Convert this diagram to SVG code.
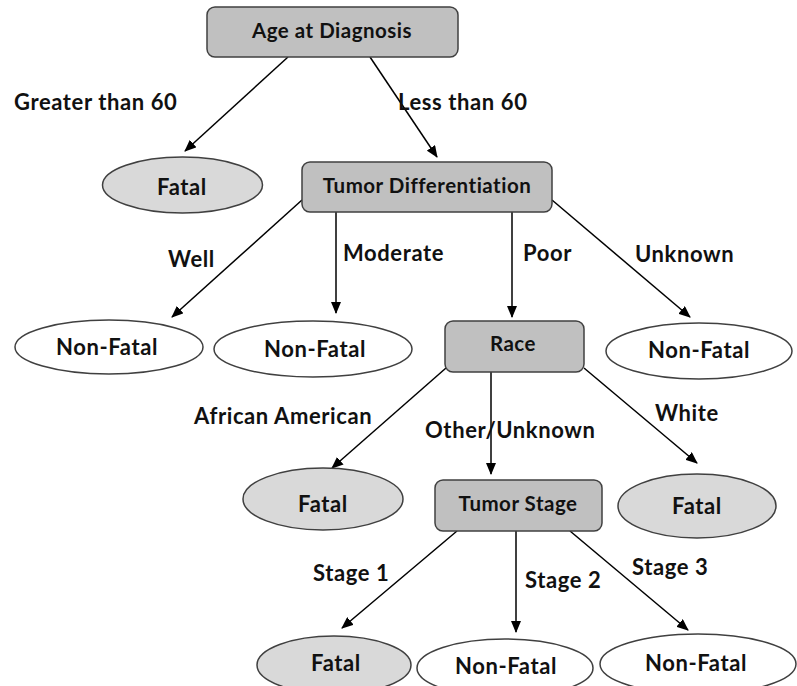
<svg xmlns="http://www.w3.org/2000/svg" width="797" height="686" viewBox="0 0 797 686">
<defs>
<marker id="ah" markerWidth="12" markerHeight="10" refX="11" refY="5" orient="auto" markerUnits="userSpaceOnUse">
<path d="M0,0 L12,5 L0,10 Z" fill="#000"/>
</marker>
<style>
.box{fill:#c0c0c0;stroke:#404040;stroke-width:1.5}
.ef{fill:#d9d9d9;stroke:#404040;stroke-width:1.5}
.en{fill:#fff;stroke:#404040;stroke-width:1.5}
text{font-family:Lato,"Open Sans","Liberation Sans",sans-serif;font-weight:bold;font-size:22px;letter-spacing:0.6px;fill:#111}
.b{font-size:20.5px;letter-spacing:0.5px}
.c{text-anchor:middle}
.e{stroke:#000;stroke-width:1.5;fill:none;marker-end:url(#ah)}
</style>
</defs>
<rect width="797" height="686" fill="#fff"/>
<g id="connectors">
<line class="e" x1="288" y1="57" x2="185" y2="151"/>
<line class="e" x1="370" y1="57" x2="437" y2="157"/>
<line class="e" x1="302" y1="200" x2="172" y2="317"/>
<line class="e" x1="336" y1="212" x2="336" y2="313"/>
<line class="e" x1="512" y1="212" x2="512" y2="317"/>
<line class="e" x1="552" y1="200" x2="690" y2="317"/>
<line class="e" x1="446" y1="368" x2="332" y2="468"/>
<line class="e" x1="491" y1="372" x2="491" y2="474"/>
<line class="e" x1="584" y1="368" x2="697" y2="463"/>
<line class="e" x1="457" y1="531" x2="342" y2="628"/>
<line class="e" x1="516" y1="531" x2="516" y2="632"/>
<line class="e" x1="570" y1="531" x2="688" y2="630"/>
<text x="14" y="110">Greater than 60</text>
<text x="398" y="110">Less than 60</text>
<text x="168" y="267">Well</text>
<text x="343" y="261">Moderate</text>
<text x="523" y="261">Poor</text>
<text x="635" y="262">Unknown</text>
<text x="194" y="424">African American</text>
<text x="425" y="438">Other/Unknown</text>
<text x="655" y="421">White</text>
<text x="313" y="581">Stage 1</text>
<text x="525" y="588">Stage 2</text>
<text x="632" y="575">Stage 3</text>
</g>
<g id="age">
<rect class="box" x="207" y="7" width="251" height="50" rx="8"/>
<text class="c b" x="332" y="38">Age at Diagnosis</text>
</g>
<g id="fatal1">
<ellipse class="ef" cx="182.5" cy="185" rx="80" ry="28"/>
<text class="c" x="182" y="195">Fatal</text>
</g>
<g id="tumordiff">
<rect class="box" x="302" y="162" width="250" height="50" rx="8"/>
<text class="c b" x="427" y="193">Tumor Differentiation</text>
</g>
<g id="nonfatal1">
<ellipse class="en" cx="109" cy="347" rx="94" ry="27"/>
<text class="c" x="107" y="355">Non-Fatal</text>
</g>
<g id="nonfatal2">
<ellipse class="en" cx="313" cy="349" rx="99" ry="28"/>
<text class="c" x="315" y="357">Non-Fatal</text>
</g>
<g id="race">
<rect class="box" x="445" y="321" width="139" height="51" rx="8"/>
<text class="c b" x="513" y="351">Race</text>
</g>
<g id="nonfatal3">
<ellipse class="en" cx="699" cy="351" rx="93" ry="28"/>
<text class="c" x="699" y="358">Non-Fatal</text>
</g>
<g id="fatal2">
<ellipse class="ef" cx="323" cy="499" rx="80" ry="31"/>
<text class="c" x="323" y="512">Fatal</text>
</g>
<g id="tumorstage">
<rect class="box" x="435" y="480" width="167" height="51" rx="8"/>
<text class="c b" x="518" y="511">Tumor Stage</text>
</g>
<g id="fatal3">
<ellipse class="ef" cx="697" cy="506" rx="79" ry="32"/>
<text class="c" x="697" y="514">Fatal</text>
</g>
<g id="fatal4">
<ellipse class="ef" cx="334" cy="665" rx="77" ry="29"/>
<text class="c" x="336" y="671">Fatal</text>
</g>
<g id="nonfatal4">
<ellipse class="en" cx="505" cy="668" rx="88" ry="29"/>
<text class="c" x="506" y="674">Non-Fatal</text>
</g>
<g id="nonfatal5">
<ellipse class="en" cx="698" cy="664" rx="98" ry="30"/>
<text class="c" x="696" y="671">Non-Fatal</text>
</g>
</svg>
